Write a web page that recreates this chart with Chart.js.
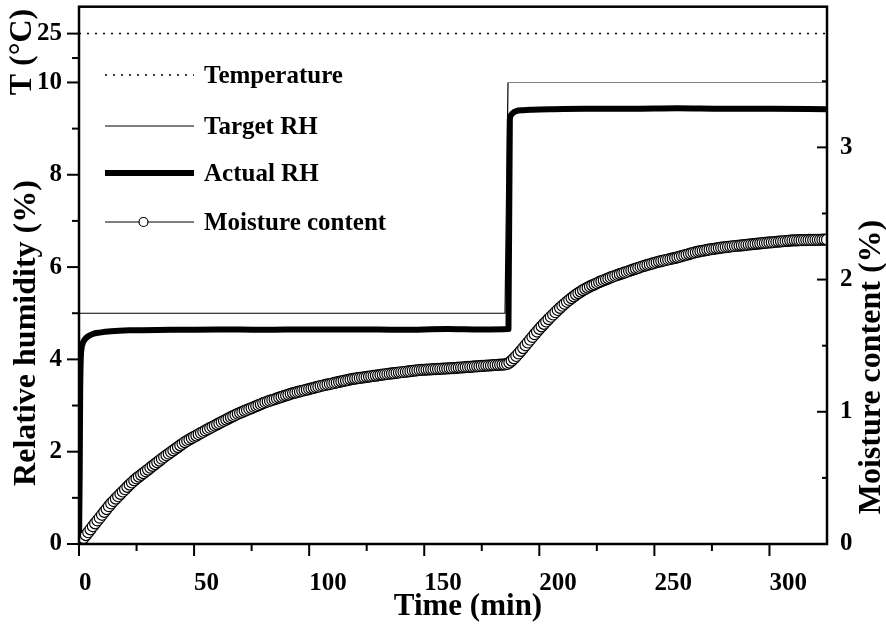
<!DOCTYPE html>
<html>
<head>
<meta charset="utf-8">
<script src="https://cdn.jsdelivr.net/npm/chart.js@4.4.0/dist/chart.umd.min.js"></script>
<style>
  html, body { margin: 0; padding: 0; background: #fff; }
  #wrap { width: 886px; height: 626px; }
</style>
</head>
<body>
<div id="wrap"><canvas id="chart" width="886" height="626"></canvas></div>
<script>
// Temperature (upper broken part of the left axis)
const tempTime = [0, 325];
const tempValue = [25, 25];

// Target RH set-point
const targetTime = [0, 185.1, 186.4, 325];
const targetRH = [5, 5, 10, 10];

// Measured RH
const actualTime = [0, 0.3, 0.5, 0.7, 1.0, 1.5, 2.5, 4, 6, 9, 14, 22, 40, 60, 80, 100, 120, 140, 160, 175, 186.6,
  187.2, 187.8, 188.5, 190, 193, 197, 205, 220, 240, 260, 280, 300, 325];
const actualRH = [0, 1.5, 3.2, 3.9, 4.2, 4.33, 4.43, 4.50, 4.55, 4.58, 4.61, 4.63, 4.64, 4.65, 4.64, 4.65, 4.65, 4.64, 4.66, 4.65, 4.66,
  9.20, 9.30, 9.34, 9.38, 9.40, 9.41, 9.42, 9.43, 9.43, 9.44, 9.43, 9.43, 9.42];

// Moisture content, one reading per minute from t = 0
const mcStepMin = 1;
const mcValues = [
  0.000, 0.022, 0.045, 0.067, 0.089, 0.111, 0.134, 0.156, 0.178, 0.199,
  0.221, 0.243, 0.264, 0.286, 0.307, 0.325, 0.343, 0.361, 0.379, 0.397,
  0.414, 0.432, 0.449, 0.465, 0.481, 0.496, 0.510, 0.523, 0.536, 0.550,
  0.563, 0.577, 0.591, 0.604, 0.618, 0.631, 0.645, 0.658, 0.671, 0.683,
  0.696, 0.708, 0.721, 0.733, 0.746, 0.758, 0.771, 0.781, 0.791, 0.801,
  0.811, 0.820, 0.830, 0.840, 0.849, 0.859, 0.868, 0.878, 0.887, 0.896,
  0.905, 0.914, 0.923, 0.932, 0.941, 0.950, 0.959, 0.967, 0.976, 0.985,
  0.992, 0.999, 1.007, 1.014, 1.021, 1.028, 1.036, 1.043, 1.050, 1.057,
  1.065, 1.072, 1.078, 1.084, 1.089, 1.095, 1.101, 1.107, 1.113, 1.119,
  1.124, 1.130, 1.136, 1.141, 1.145, 1.150, 1.154, 1.159, 1.163, 1.168,
  1.172, 1.177, 1.181, 1.186, 1.190, 1.195, 1.199, 1.203, 1.207, 1.210,
  1.214, 1.218, 1.222, 1.226, 1.230, 1.234, 1.237, 1.241, 1.245, 1.249,
  1.251, 1.254, 1.256, 1.259, 1.261, 1.264, 1.266, 1.269, 1.271, 1.274,
  1.276, 1.279, 1.281, 1.284, 1.286, 1.288, 1.290, 1.292, 1.295, 1.297,
  1.299, 1.301, 1.303, 1.305, 1.307, 1.310, 1.312, 1.314, 1.316, 1.317,
  1.318, 1.319, 1.320, 1.321, 1.322, 1.323, 1.324, 1.325, 1.326, 1.327,
  1.328, 1.329, 1.330, 1.331, 1.332, 1.334, 1.335, 1.336, 1.338, 1.339,
  1.340, 1.341, 1.343, 1.344, 1.345, 1.347, 1.348, 1.349, 1.350, 1.351,
  1.353, 1.354, 1.355, 1.356, 1.357, 1.358, 1.362, 1.372, 1.387, 1.404,
  1.422, 1.441, 1.461, 1.482, 1.503, 1.524, 1.545, 1.566, 1.587, 1.607,
  1.627, 1.646, 1.665, 1.683, 1.701, 1.719, 1.736, 1.753, 1.770, 1.786,
  1.802, 1.817, 1.832, 1.846, 1.860, 1.873, 1.886, 1.898, 1.909, 1.920,
  1.930, 1.939, 1.948, 1.956, 1.964, 1.972, 1.980, 1.988, 1.995, 2.002,
  2.009, 2.016, 2.023, 2.029, 2.035, 2.041, 2.047, 2.053, 2.059, 2.065,
  2.071, 2.077, 2.083, 2.089, 2.095, 2.101, 2.106, 2.111, 2.116, 2.121,
  2.126, 2.131, 2.136, 2.140, 2.144, 2.148, 2.152, 2.156, 2.160, 2.164,
  2.168, 2.173, 2.178, 2.183, 2.188, 2.193, 2.198, 2.203, 2.207, 2.211,
  2.215, 2.218, 2.221, 2.225, 2.228, 2.231, 2.233, 2.236, 2.238, 2.241,
  2.243, 2.246, 2.248, 2.250, 2.252, 2.254, 2.256, 2.257, 2.259, 2.261,
  2.263, 2.265, 2.267, 2.268, 2.270, 2.272, 2.274, 2.276, 2.277, 2.279,
  2.281, 2.282, 2.284, 2.286, 2.287, 2.289, 2.290, 2.292, 2.293, 2.295,
  2.296, 2.297, 2.297, 2.298, 2.298, 2.299, 2.299, 2.300, 2.300, 2.300,
  2.301, 2.301, 2.301, 2.302, 2.302, 2.302
];

// Axis ticks and labels
const timeTicks = [0, 25, 50, 75, 100, 125, 150, 175, 200, 225, 250, 275, 300];
const timeTickLabels = ['0', '', '50', '', '100', '', '150', '', '200', '', '250', '', '300'];
const rhTicks = [0, 1, 2, 3, 4, 5, 6, 7, 8, 9, 10];
const rhTickLabels = ['0', '', '2', '', '4', '', '6', '', '8', '', '10'];
const tempTicks = [17.5, 25];
const tempTickLabels = ['', '25'];
const mcTicks = [0, 0.5, 1, 1.5, 2, 2.5, 3, 3.5];
const mcTickLabels = ['0', '', '1', '', '2', '', '3', ''];

const FONT = 'Liberation Serif';
const zip = (xs, ys) => xs.map((x, i) => ({ x: x, y: ys[i] }));

function setTicks(values) {
  return function(scale) { scale.ticks = values.map(v => ({ value: v })); };
}
function fixSize(w, h) {
  return function(scale) {
    if (w) scale.width = w;
    if (h) scale.height = h;
    scale.paddingTop = 0; scale.paddingBottom = 0;
    scale.paddingLeft = 0; scale.paddingRight = 0;
  };
}
function tickFont() { return { family: FONT, size: 25, weight: 'bold' }; }

// frame and tick marks (major long, minor short)
const framePlugin = {
  id: 'frame',
  afterDatasetsDraw(chart) {
    const { ctx, chartArea: a, scales } = chart;
    ctx.save();
    ctx.strokeStyle = '#000';
    ctx.lineWidth = 2;
    const mark = (x1, y1, x2, y2) => { ctx.beginPath(); ctx.moveTo(x1, y1); ctx.lineTo(x2, y2); ctx.stroke(); };
    scales.x.ticks.forEach(t => {
      const px = scales.x.getPixelForValue(t.value);
      mark(px, a.bottom, px, a.bottom + (t.label ? 12 : 7));
    });
    ['y', 'yT'].forEach(id => {
      scales[id].ticks.forEach(t => {
        const py = scales[id].getPixelForValue(t.value);
        mark(a.left - (t.label ? 12 : 7), py, a.left, py);
      });
    });
    scales.y2.ticks.forEach(t => {
      const py = scales.y2.getPixelForValue(t.value);
      mark(a.right - (t.label ? 10 : 5), py, a.right, py);
    });
    ctx.lineWidth = 2.5;
    ctx.strokeRect(a.left, a.top, a.right - a.left, a.bottom - a.top);
    ctx.restore();
  }
};

// legend with line samples and axis titles
const legendPlugin = {
  id: 'legendTitles',
  afterDraw(chart) {
    const ctx = chart.ctx;
    ctx.save();
    ctx.fillStyle = '#000';
    ctx.strokeStyle = '#000';
    ctx.font = 'bold 25px ' + FONT;
    ctx.textBaseline = 'middle';
    const x0 = 105, x1 = 194, tx = 204;
    const rows = [75, 126, 173, 222];
    chart.data.datasets.forEach((ds, i) => {
      const y = rows[i];
      ctx.save();
      ctx.lineWidth = ds.borderWidth;
      ctx.setLineDash(ds.borderDash || []);
      ctx.beginPath(); ctx.moveTo(x0, y); ctx.lineTo(x1, y); ctx.stroke();
      ctx.setLineDash([]);
      if (ds.pointRadius > 0) {
        ctx.beginPath();
        ctx.arc((x0 + x1) / 2 - 6, y, 4.5, 0, Math.PI * 2);
        ctx.fillStyle = '#fff'; ctx.fill();
        ctx.lineWidth = 1.2; ctx.stroke();
      }
      ctx.restore();
      ctx.fillText(ds.label, tx, y + 2);
    });

    ctx.textBaseline = 'alphabetic';
    ctx.textAlign = 'center';
    ctx.font = 'bold 31px ' + FONT;
    ctx.fillText('Time (min)', 468, 615);
    ctx.font = 'bold 32px ' + FONT;
    const vtext = (txt, x, y) => {
      ctx.save(); ctx.translate(x, y); ctx.rotate(-Math.PI / 2); ctx.fillText(txt, 0, 0); ctx.restore();
    };
    vtext('Relative humidity (%)', 35, 333);
    vtext('T (\u00B0C)', 31, 52);
    vtext('Moisture content (%)', 880, 367);
    ctx.restore();
  }
};

new Chart(document.getElementById('chart'), {
  type: 'line',
  data: {
    datasets: [
      {
        label: 'Temperature', data: zip(tempTime, tempValue), yAxisID: 'yT',
        borderColor: '#000', borderWidth: 1.5, borderDash: [2, 6], pointRadius: 0, order: 3
      },
      {
        label: 'Target RH', data: zip(targetTime, targetRH), yAxisID: 'y',
        borderColor: '#000', borderWidth: 1.2, pointRadius: 0, order: 2
      },
      {
        label: 'Actual RH', data: zip(actualTime, actualRH), yAxisID: 'y',
        borderColor: '#000', borderWidth: 6, pointRadius: 0, cubicInterpolationMode: 'monotone',
        borderJoinStyle: 'round', order: 1
      },
      {
        label: 'Moisture content', data: mcValues.map((v, i) => ({ x: i * mcStepMin, y: v })), yAxisID: 'y2',
        borderColor: '#000', borderWidth: 1, pointRadius: 5.5, pointBorderWidth: 1.2,
        pointBackgroundColor: '#fff', pointBorderColor: '#000', order: 0
      }
    ]
  },
  options: {
    responsive: false,
    animation: false,
    layout: { padding: { top: 5, left: 0, right: 0, bottom: 0 } },
    plugins: { legend: { display: false }, tooltip: { enabled: false } },
    scales: {
      x: {
        type: 'linear', min: 0, max: 325,
        afterBuildTicks: setTicks(timeTicks), afterFit: fixSize(0, 82),
        grid: { display: false, drawTicks: false }, border: { display: false },
        ticks: { autoSkip: false, maxRotation: 0, align: 'start', padding: 25, color: '#000', font: tickFont(),
          callback: (v, i) => timeTickLabels[i] }
      },
      y: {
        type: 'linear', position: 'left', stack: 'left', stackWeight: 463, min: 0, max: 10,
        afterBuildTicks: setTicks(rhTicks), afterFit: fixSize(79, 0),
        grid: { display: false, drawTicks: false }, border: { display: false },
        ticks: { autoSkip: false, padding: 17, color: '#000', font: tickFont(),
          callback: (v, i) => rhTickLabels[i] }
      },
      yT: {
        type: 'linear', position: 'left', stack: 'left', stackWeight: 76, min: 10, max: 33.26,
        afterBuildTicks: setTicks(tempTicks), afterFit: fixSize(79, 0),
        grid: { display: false, drawTicks: false }, border: { display: false },
        ticks: { autoSkip: false, padding: 17, color: '#000', font: tickFont(),
          callback: (v, i) => tempTickLabels[i] }
      },
      y2: {
        type: 'linear', position: 'right', min: 0, max: 4.064,
        afterBuildTicks: setTicks(mcTicks), afterFit: fixSize(59, 0),
        grid: { display: false, drawTicks: false }, border: { display: false },
        ticks: { autoSkip: false, padding: 13, color: '#000', font: tickFont(),
          callback: (v, i) => mcTickLabels[i] }
      }
    }
  },
  plugins: [framePlugin, legendPlugin]
});
</script>
</body>
</html>
